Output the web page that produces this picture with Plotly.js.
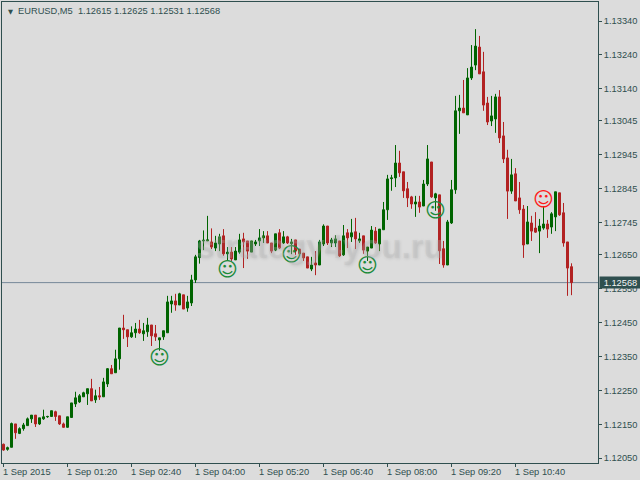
<!DOCTYPE html>
<html>
<head>
<meta charset="utf-8">
<script src="https://cdn.plot.ly/plotly-3.0.1.min.js"></script>
<style>html,body{margin:0;padding:0;background:#dcdcdc}#chart{width:640px;height:480px}</style>
</head>
<body>
<div id="chart"></div>
<script>
const opens = [
1.12091,1.12076,1.12082,1.12151,1.12123,1.12137,1.12146,1.12166,1.12177,1.12151,
1.12166,1.12172,1.12173,1.12187,1.12175,1.12151,1.12141,1.12170,1.12210,1.12216,
1.12231,1.12240,1.12255,1.12222,1.12234,1.12231,1.12269,1.12314,1.12302,1.12343,
1.12434,1.12429,1.12408,1.12420,1.12431,1.12417,1.12423,1.12443,1.12417,1.12399,
1.12408,1.12420,1.12505,1.12514,1.12502,1.12532,1.12493,1.12508,1.12576,1.12642,
1.12691,1.12691,1.12688,1.12670,1.12682,1.12706,1.12653,1.12658,1.12635,1.12658,
1.12697,1.12691,1.12658,1.12682,1.12691,1.12700,1.12706,1.12685,1.12664,1.12715,
1.12685,1.12703,1.12683,1.12694,1.12667,1.12655,1.12644,1.12608,1.12626,1.12620,
1.12682,1.12735,1.12685,1.12685,1.12691,1.12650,1.12715,1.12703,1.12718,1.12691,
1.12706,1.12661,1.12670,1.12720,1.12682,1.12724,1.12783,1.12875,1.12877,1.12921,
1.12895,1.12845,1.12821,1.12800,1.12806,1.12794,1.12859,1.12924,1.12818,1.12827,
1.12668,1.12620,1.12744,1.12842,1.13075,1.13083,1.13063,1.13172,1.13210,1.13263,
1.13190,1.13098,1.13045,1.13051,1.13116,1.13001,1.12936,1.12838,1.12889,1.12818,
1.12785,1.12682,1.12744,1.12729,1.12720,1.12729,1.12741,1.12732,1.12762,1.12833,
1.12774,1.12688,1.12615];
const highs = [
1.12093,1.12084,1.12155,1.12151,1.12141,1.12154,1.12170,1.12177,1.12177,1.12169,
1.12193,1.12175,1.12190,1.12190,1.12175,1.12155,1.12172,1.12213,1.12246,1.12239,
1.12246,1.12255,1.12284,1.12252,1.12260,1.12287,1.12316,1.12325,1.12370,1.12434,
1.12473,1.12429,1.12439,1.12449,1.12458,1.12449,1.12464,1.12443,1.12443,1.12405,
1.12426,1.12529,1.12529,1.12535,1.12538,1.12532,1.12529,1.12591,1.12650,1.12694,
1.12722,1.12765,1.12728,1.12706,1.12712,1.12726,1.12673,1.12673,1.12673,1.12712,
1.12715,1.12691,1.12691,1.12694,1.12726,1.12720,1.12720,1.12685,1.12712,1.12726,
1.12720,1.12706,1.12697,1.12694,1.12667,1.12655,1.12644,1.12644,1.12661,1.12694,
1.12740,1.12735,1.12700,1.12708,1.12691,1.12738,1.12726,1.12756,1.12759,1.12715,
1.12706,1.12673,1.12735,1.12732,1.12726,1.12806,1.12886,1.12886,1.12974,1.12957,
1.12895,1.12865,1.12824,1.12824,1.12824,1.12871,1.12974,1.12924,1.12833,1.12827,
1.12691,1.12753,1.12871,1.13119,1.13122,1.13166,1.13201,1.13269,1.13316,1.13296,
1.13249,1.13116,1.13119,1.13125,1.13136,1.13042,1.12960,1.12933,1.12906,1.12865,
1.12797,1.12794,1.12765,1.12776,1.12756,1.12794,1.12753,1.12776,1.12836,1.12833,
1.12803,1.12688,1.12625];
const lows = [
1.12072,1.12072,1.12082,1.12107,1.12121,1.12131,1.12145,1.12154,1.12142,1.12148,
1.12163,1.12169,1.12172,1.12160,1.12148,1.12140,1.12140,1.12169,1.12201,1.12213,
1.12231,1.12207,1.12219,1.12213,1.12222,1.12231,1.12260,1.12299,1.12302,1.12311,
1.12402,1.12378,1.12405,1.12405,1.12417,1.12396,1.12408,1.12381,1.12396,1.12367,
1.12399,1.12420,1.12479,1.12485,1.12502,1.12490,1.12482,1.12499,1.12567,1.12624,
1.12664,1.12691,1.12667,1.12661,1.12661,1.12647,1.12632,1.12632,1.12635,1.12653,
1.12611,1.12638,1.12658,1.12676,1.12676,1.12685,1.12685,1.12655,1.12661,1.12667,
1.12682,1.12682,1.12652,1.12650,1.12647,1.12632,1.12611,1.12602,1.12590,1.12620,
1.12676,1.12679,1.12673,1.12673,1.12644,1.12647,1.12670,1.12688,1.12667,1.12685,
1.12653,1.12632,1.12670,1.12682,1.12661,1.12724,1.12753,1.12839,1.12850,1.12880,
1.12818,1.12791,1.12786,1.12762,1.12774,1.12794,1.12853,1.12818,1.12780,1.12623,
1.12612,1.12620,1.12741,1.12830,1.13007,1.13069,1.13063,1.13166,1.13195,1.13184,
1.13075,1.13033,1.13030,1.13010,1.12980,1.12921,1.12756,1.12830,1.12809,1.12771,
1.12641,1.12682,1.12691,1.12715,1.12655,1.12724,1.12700,1.12712,1.12720,1.12765,
1.12674,1.12529,1.12531];
const closes = [
1.12074,1.12081,1.12152,1.12125,1.12137,1.12148,1.12166,1.12177,1.12151,1.12169,
1.12172,1.12173,1.12190,1.12173,1.12151,1.12141,1.12172,1.12213,1.12228,1.12234,
1.12243,1.12255,1.12219,1.12234,1.12231,1.12275,1.12314,1.12299,1.12343,1.12434,
1.12429,1.12408,1.12420,1.12431,1.12420,1.12426,1.12443,1.12411,1.12408,1.12405,
1.12426,1.12511,1.12514,1.12502,1.12535,1.12490,1.12511,1.12576,1.12644,1.12691,
1.12693,1.12694,1.12673,1.12685,1.12703,1.12653,1.12658,1.12638,1.12661,1.12694,
1.12688,1.12661,1.12691,1.12688,1.12700,1.12706,1.12685,1.12661,1.12712,1.12670,
1.12703,1.12685,1.12688,1.12661,1.12653,1.12641,1.12611,1.12620,1.12620,1.12688,
1.12735,1.12685,1.12694,1.12697,1.12647,1.12706,1.12700,1.12715,1.12697,1.12697,
1.12664,1.12673,1.12723,1.12685,1.12726,1.12783,1.12874,1.12877,1.12921,1.12892,
1.12839,1.12818,1.12800,1.12806,1.12791,1.12859,1.12933,1.12821,1.12830,1.12662,
1.12620,1.12747,1.12842,1.13075,1.13083,1.13069,1.13172,1.13204,1.13266,1.13184,
1.13092,1.13042,1.13060,1.13116,1.12995,1.12933,1.12838,1.12886,1.12809,1.12783,
1.12679,1.12747,1.12720,1.12717,1.12735,1.12741,1.12726,1.12771,1.12836,1.12768,
1.12685,1.12611,1.12568];
const barIndex = opens.map((_, i) => i);

const xTickBars = [0, 16, 32, 48, 64, 80, 96, 112, 128];
const xTickLabels = ["1 Sep 2015","1 Sep 01:20","1 Sep 02:40","1 Sep 04:00","1 Sep 05:20","1 Sep 06:40","1 Sep 08:00","1 Sep 09:20","1 Sep 10:40"];
const yTickValues = [1.1334,1.1324,1.1314,1.13045,1.12945,1.12845,1.12745,1.1265,1.1255,1.1245,1.1235,1.1225,1.1215,1.1205];
const yTickLabels = ["1.13340","1.13240","1.13140","1.13045","1.12945","1.12845","1.12745","1.12650","1.12550","1.12450","1.12350","1.12250","1.12150","1.12050"];
const greenSmileBars = [39, 56, 72, 91, 108];
const greenSmilePrices = [1.12342, 1.12602, 1.12646, 1.12614, 1.12776];
const redSmileBars = [135];
const redSmilePrices = [1.12809];
const lastPrice = 1.12568;
const headerText = "EURUSD,M5  1.12615 1.12625 1.12531 1.12568";
const watermark = "strategy4you.ru";

const INK = "#2f4f4f";
const FONT = "Liberation Sans";
const TEXT_SIZE = 9.3;

const candles = {
  type: "candlestick", x: barIndex, open: opens, high: highs, low: lows, close: closes,
  increasing: {line: {color: "#006400", width: 1}, fillcolor: "#006400"},
  decreasing: {line: {color: "#b22222", width: 1}, fillcolor: "#b22222"},
  whiskerwidth: 0, showlegend: false, hoverinfo: "skip"
};
const smile = (x, y, color) => ({
  type: "scatter", mode: "text", x: x, y: y, text: x.map(() => "\u263A"),
  textposition: "middle center", textfont: {family: "DejaVu Sans", size: 20, color: color},
  showlegend: false, hoverinfo: "skip"
});

const annotations = xTickBars.map((b, i) => ({
  xref: "x", yref: "paper", x: b, y: 0, xanchor: "left", yanchor: "top", yshift: -2, xshift: -3,
  text: xTickLabels[i], showarrow: false, font: {family: FONT, size: TEXT_SIZE, color: INK}
}));
annotations.push(
  {xref: "paper", yref: "paper", x: 0.006, y: 0.9775, xanchor: "left", yanchor: "middle",
   text: "\u25BC", showarrow: false, font: {family: "DejaVu Sans", size: 6.5, color: INK}},
  {xref: "paper", yref: "paper", x: 0.024, y: 0.9815, xanchor: "left", yanchor: "middle",
   text: headerText.replace(/  /g, "&nbsp;&nbsp;"), showarrow: false, font: {family: FONT, size: TEXT_SIZE, color: INK}},
  {xref: "paper", yref: "y", x: 1, y: lastPrice, xanchor: "left", yanchor: "middle", xshift: 1,
   text: "1.12568", showarrow: false, bgcolor: INK, width: 41, height: 11, borderpad: 0, align: "center",
   font: {family: FONT, size: TEXT_SIZE, color: "#f4f4f4"}},
  {xref: "paper", yref: "paper", x: 0.322, y: 0.47, xanchor: "left", yanchor: "middle",
   text: watermark, showarrow: false,
   font: {family: FONT, size: 33, weight: 700, color: "rgba(185,185,185,0.3)", shadow: "1px 1px 3px rgba(110,110,110,0.6)"}}
);

const layout = {
  width: 640, height: 480, autosize: false,
  margin: {l: 2, r: 42, t: 2, b: 17, pad: 0},
  paper_bgcolor: "#dcdcdc", plot_bgcolor: "#dcdcdc",
  boxgap: 0.5, boxgroupgap: 0, showlegend: false, dragmode: false,
  xaxis: {
    range: [-0.375, 148.625], type: "linear", rangeslider: {visible: false},
    showgrid: false, zeroline: false, showline: true, mirror: true, linecolor: INK, linewidth: 1,
    tickmode: "array", tickvals: xTickBars, showticklabels: false,
    ticks: "outside", ticklen: 3, tickcolor: INK, tickwidth: 1
  },
  yaxis: {
    range: [1.120357, 1.133961], side: "right",
    showgrid: false, zeroline: false, showline: true, mirror: true, linecolor: INK, linewidth: 1,
    tickmode: "array", tickvals: yTickValues, ticktext: yTickLabels,
    ticks: "outside", ticklen: 3, tickcolor: INK, tickwidth: 1,
    tickfont: {family: FONT, size: TEXT_SIZE, color: INK}
  },
  shapes: [{type: "line", xref: "paper", yref: "y", x0: 0, x1: 1, y0: lastPrice, y1: lastPrice,
            line: {color: "#778899", width: 1}, layer: "below"}],
  annotations: annotations
};

Plotly.newPlot("chart", [candles, smile(greenSmileBars, greenSmilePrices, "#1b8a3a"), smile(redSmileBars, redSmilePrices, "#ff1a1a")], layout, {displayModeBar: false, staticPlot: true});
</script>
</body>
</html>
